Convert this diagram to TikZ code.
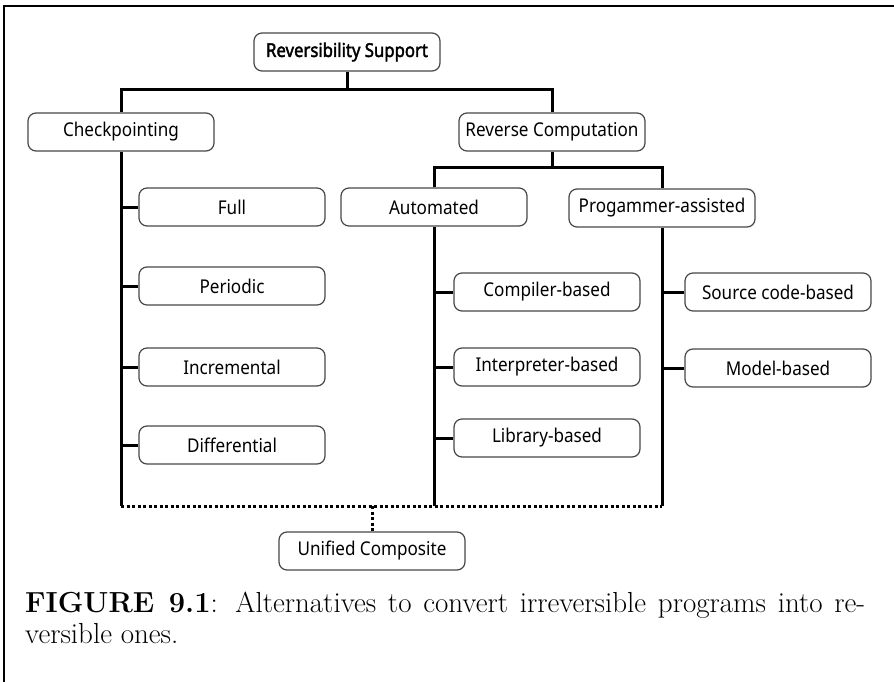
\documentclass[tikz,border=0pt]{standalone}
\usepackage{fontspec}
\newfontfamily\boxfont{Noto Sans}
\newfontfamily\boxboldfont{Noto Sans}[FakeBold=2.2]
\usetikzlibrary{backgrounds}
\newcommand{\boxtext}[1]{\scalebox{0.9}[1]{#1}}
\begin{document}
\begin{tikzpicture}[x=1pt,y=-1pt,
  item/.style={draw=black!72, line width=1.2pt, rounded corners=8pt, fill=white,
    minimum width=186pt, minimum height=38pt, inner sep=0pt,
    font=\boxfont\fontsize{19}{22}\selectfont},
  conn/.style={line width=3pt},
  dotline/.style={line width=3pt, dash pattern=on 3pt off 2.5pt},
  frameline/.style={line width=2pt},
  captext/.style={anchor=base west, inner sep=0pt, font=\fontsize{29}{35}\selectfont}]
\useasboundingbox (0,0) rectangle (894,682);
\draw[frameline] (4,682) -- (4,6) -- (894,6);

% tree nodes
\node[item] (rs) at (347,52) {\boxboldfont\scalebox{0.88}[1]{Reversibility Support}};
\node[item] (cp) at (121,132) {\boxtext{Checkpointing}};
\node[item] (rc) at (552,132) {\boxtext{Reverse Computation}};
\node[item] (full) at (232,207) {\boxtext{Full}};
\node[item] (per) at (232,286) {\boxtext{Periodic}};
\node[item] (inc) at (232,367) {\boxtext{Incremental}};
\node[item] (dif) at (232,445) {\boxtext{Differential}};
\node[item] (au) at (434,207) {\boxtext{Automated}};
\node[item] (pa) at (662,208) {\boxtext{Progammer-assisted}};
\node[item] (comp) at (547,292) {\boxtext{Compiler-based}};
\node[item] (interp) at (547,367) {\boxtext{Interpreter-based}};
\node[item] (lib) at (547,438) {\boxtext{Library-based}};
\node[item] (src) at (778,292) {\boxtext{Source code-based}};
\node[item] (model) at (778,368) {\boxtext{Model-based}};
\node[item] (uc) at (372,551) {\boxtext{Unified Composite}};

% caption
\node[captext] (cap1) at (25,612)
  {\makebox[840pt][s]{\textbf{FIGURE 9.1}: Alternatives to convert irreversible programs into re-}};
\node[captext] (cap2) at (25,643) {versible ones.};

% connectors
\coordinate (b1) at (347,90);
\coordinate (b2) at (552,167);
\coordinate (bot) at (372,506);
\begin{scope}[on background layer]
  \draw[conn] (rs.south) -- (b1);
  \draw[conn] (cp.north) |- (b1) -| (rc.north);
  \draw[conn] (rc.south) -- (b2);
  \draw[conn] (au.north) |- (b2) -| (pa.north);
  \draw[conn] (cp.south) -- (cp.south |- bot);
  \draw[conn] (au.south) -- (au.south |- bot);
  \draw[conn] (pa.south) -- (pa.south |- bot);
  \foreach \n in {full,per,inc,dif} \draw[conn] (cp.south |- \n.west) -- (\n.west);
  \foreach \n in {comp,interp,lib} \draw[conn] (au.south |- \n.west) -- (\n.west);
  \foreach \n in {src,model} \draw[conn] (pa.south |- \n.west) -- (\n.west);
  \draw[dotline] (cp.south |- bot) -- (pa.south |- bot);
  \draw[dotline] (bot) -- (uc.north);
\end{scope}
\end{tikzpicture}
\end{document}
